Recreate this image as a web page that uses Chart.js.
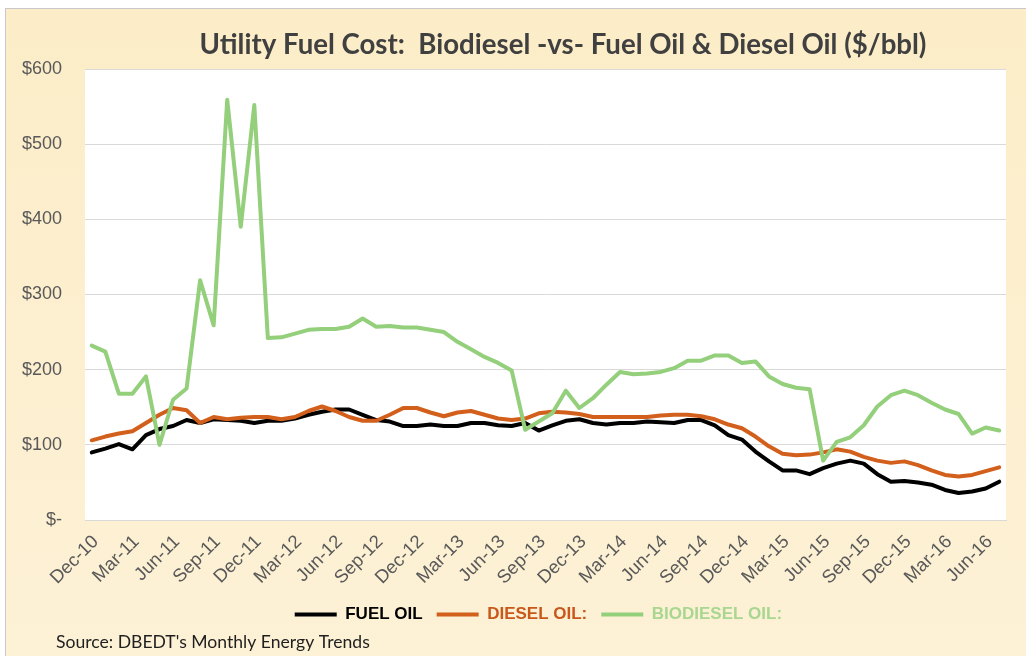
<!DOCTYPE html>
<html>
<head>
<meta charset="utf-8">
<script src="https://cdn.jsdelivr.net/npm/chart.js@4.4.1/dist/chart.umd.min.js"></script>
<style>
  html, body { margin: 0; padding: 0; background: #ffffff; width: 1026px; height: 656px; overflow: hidden; }
  #frame { position: absolute; left: 5px; top: 8px; width: 1020px; height: 647px;
           border-left: 1px solid #C9C9C9; border-top: 1px solid #C9C9C9;
           background: linear-gradient(#FCEDC8, #FDF1D6); }
  #c { position: absolute; left: 0; top: 0; }
</style>
</head>
<body>
<div id="frame"><canvas id="c" width="1020" height="647"></canvas></div>
<script>
// ---- Data ----
const months = [
  'Dec-10','Jan-11','Feb-11','Mar-11','Apr-11','May-11','Jun-11','Jul-11','Aug-11','Sep-11','Oct-11','Nov-11',
  'Dec-11','Jan-12','Feb-12','Mar-12','Apr-12','May-12','Jun-12','Jul-12','Aug-12','Sep-12','Oct-12','Nov-12',
  'Dec-12','Jan-13','Feb-13','Mar-13','Apr-13','May-13','Jun-13','Jul-13','Aug-13','Sep-13','Oct-13','Nov-13',
  'Dec-13','Jan-14','Feb-14','Mar-14','Apr-14','May-14','Jun-14','Jul-14','Aug-14','Sep-14','Oct-14','Nov-14',
  'Dec-14','Jan-15','Feb-15','Mar-15','Apr-15','May-15','Jun-15','Jul-15','Aug-15','Sep-15','Oct-15','Nov-15',
  'Dec-15','Jan-16','Feb-16','Mar-16','Apr-16','May-16','Jun-16','Jul-16'
];
const fuelOil = [
  90,95,101,94,113,121,125,133,129,134,
  133,132,129,132,132,135,140,144,147,147,
  140,133,131,125,125,127,125,125,129,129,
  126,125,129,119,126,132,134,129,127,129,
  129,131,130,129,133,133,126,113,107,91,
  78,66,66,61,69,75,79,75,61,51,
  52,50,47,40,36,38,42,51
];
const dieselOil = [
  106,111,115,118,129,140,149,146,129,137,
  134,136,137,137,134,137,145,151,145,137,
  132,132,140,149,149,143,138,143,145,140,
  135,133,135,142,144,143,141,137,137,137,
  137,137,139,140,140,138,134,127,122,111,
  98,88,86,87,90,94,91,84,79,76,
  78,73,66,60,58,60,65,70
];
const biodieselOil = [
  232,224,168,168,191,100,160,175,319,259,
  559,390,552,242,243,248,253,254,254,257,
  268,257,258,256,256,253,250,237,227,217,
  209,199,120,131,142,172,149,162,180,197,
  194,195,197,202,212,212,219,219,209,211,
  191,181,176,174,79,104,110,126,151,166,
  172,166,156,147,141,115,123,119
];
const seriesNames = ['FUEL OIL', 'DIESEL OIL:', 'BIODIESEL OIL:'];
const yTicks = [0, 100, 200, 300, 400, 500, 600];
const titleText = 'Utility Fuel Cost:  Biodiesel -vs- Fuel Oil & Diesel Oil ($/bbl)';
const sourceText = "Source: DBEDT's Monthly Energy Trends";

// ---- Styles ----
const lineColors = ['#000000', '#D2601C', '#94CF7B'];
const legendTextColors = ['#000000', '#C9571A', '#A9D690'];

function fitFont(ctx, text, weight, family, target) {
  ctx.font = weight + ' 20px ' + family;
  const w = ctx.measureText(text).width;
  return (20 * target / w);
}

const decor = {
  id: 'decor',
  beforeDraw(chart) {
    const {ctx, chartArea: a} = chart;
    ctx.save();
    ctx.fillStyle = '#FFFFFF';
    ctx.fillRect(a.left, a.top, a.right - a.left, a.bottom - a.top);
    ctx.restore();
  },
  afterDraw(chart) {
    const ctx = chart.ctx;
    ctx.save();
    const tFam = 'Lato, "Open Sans", sans-serif';
    let s = fitFont(ctx, titleText, 'bold', tFam, 727);
    ctx.font = 'bold ' + s + 'px ' + tFam;
    ctx.fillStyle = '#404040';
    ctx.textAlign = 'center';
    ctx.textBaseline = 'alphabetic';
    ctx.fillText(titleText, 557, 45);
    s = fitFont(ctx, sourceText, 'normal', tFam, 314);
    ctx.font = 'normal ' + s + 'px ' + tFam;
    ctx.fillStyle = '#1F1F1F';
    ctx.textAlign = 'left';
    ctx.fillText(sourceText, 50, 639);
    ctx.restore();
  }
};

const ctx = document.getElementById('c').getContext('2d');
new Chart(ctx, {
  type: 'line',
  data: {
    labels: months,
    datasets: [
      { label: seriesNames[0], data: fuelOil, borderColor: lineColors[0], backgroundColor: lineColors[0], order: 2 },
      { label: seriesNames[1], data: dieselOil, borderColor: lineColors[1], backgroundColor: lineColors[1], order: 1 },
      { label: seriesNames[2], data: biodieselOil, borderColor: lineColors[2], backgroundColor: lineColors[2], order: 0 }
    ]
  },
  options: {
    responsive: false,
    animation: false,
    devicePixelRatio: 1,
    elements: {
      line: { borderWidth: 4, tension: 0, borderJoinStyle: 'round', borderCapStyle: 'round', fill: false },
      point: { radius: 0, hoverRadius: 0 }
    },
    layout: { padding: { left: 0, right: 10, top: 60, bottom: 23 } },
    plugins: {
      title: { display: false },
      tooltip: { enabled: false },
      legend: {
        display: true,
        position: 'bottom',
        fullSize: false,
        labels: {
          usePointStyle: true,
          pointStyleWidth: 42,
          padding: 14,
          font: { family: '"Liberation Sans", Arial, sans-serif', size: 17, weight: 'bold' },
          generateLabels(chart) {
            return chart.data.datasets.map((ds, i) => ({
              text: ds.label + (i === 2 ? '   ' : ''),
              fillStyle: ds.borderColor,
              strokeStyle: ds.borderColor,
              lineWidth: 4,
              lineCap: 'butt',
              pointStyle: 'line',
              fontColor: legendTextColors[i],
              hidden: false,
              datasetIndex: i
            }));
          }
        }
      }
    },
    scales: {
      x: {
        offset: true,
        grid: { display: false, drawTicks: false },
        border: { display: true, color: '#D9D9D9', width: 1 },
        ticks: {
          autoSkip: false,
          minRotation: 45,
          maxRotation: 45,
          padding: 11,
          labelOffset: 4,
          color: '#595959',
          font: { family: '"Liberation Sans", Arial, sans-serif', size: 18.5 },
          callback(v, i) { return i % 3 === 0 ? months[i] : ''; }
        },
        afterFit(scale) { scale.height = 72; }
      },
      y: {
        min: 0, max: 600,
        afterBuildTicks(scale) { scale.ticks = yTicks.map(v => ({ value: v })); },
        grid: { color: '#D9D9D9', lineWidth: 1, drawTicks: false },
        border: { display: false },
        ticks: {
          padding: 23,
          color: '#595959',
          font: { family: '"Liberation Sans", Arial, sans-serif', size: 18 },
          callback(v) { return v === 0 ? '$-' : '$' + v; }
        },
        afterFit(scale) { scale.width = 79; }
      }
    }
  },
  plugins: [decor]
});
</script>
</body>
</html>
